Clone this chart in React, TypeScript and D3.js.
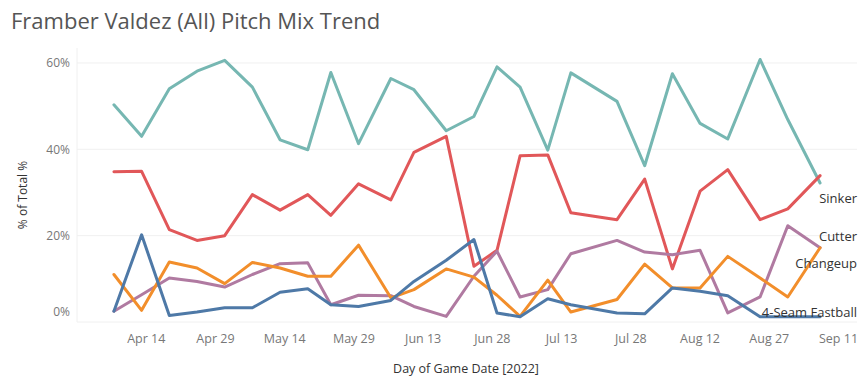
import React from "react";
import * as d3 from "d3";

const W = 866;
const H = 391;

// game dates (2022)
const dates = [
  "2022-04-07", "2022-04-13", "2022-04-19", "2022-04-25", "2022-05-01", "2022-05-07",
  "2022-05-13", "2022-05-19", "2022-05-24", "2022-05-30", "2022-06-06", "2022-06-11",
  "2022-06-18", "2022-06-24", "2022-06-29", "2022-07-04", "2022-07-10", "2022-07-15",
  "2022-07-25", "2022-07-31", "2022-08-06", "2022-08-12", "2022-08-18", "2022-08-25",
  "2022-08-31", "2022-09-07",
];

const curveball = [50.3, 43.0, 54.0, 58.1, 60.6, 54.4, 42.2, 39.9, 57.8, 41.3, 56.4, 53.8, 44.3,
  47.6, 59.1, 54.4, 39.8, 57.7, 51.1, 36.2, 57.5, 46.0, 42.4, 60.8, 46.9, 32.2];
const sinker = [34.8, 34.9, 21.4, 18.9, 20.0, 29.5, 25.9, 29.5, 24.7, 32.0, 28.3, 39.3, 43.0,
  12.9, 16.6, 38.5, 38.7, 25.3, 23.7, 33.1, 12.3, 30.3, 35.3, 23.7, 26.2, 33.9];
const cutter = [2.5, 6.3, 10.2, 9.4, 8.1, 11.0, 13.5, 13.7, 4.0, 6.2, 6.1, 3.6, 1.3, 10.6, 16.4,
  5.8, 7.5, 15.8, 18.9, 16.2, 15.6, 16.6, 2.1, 5.8, 22.3, 17.2];
const changeup = [11.0, 2.7, 13.9, 12.5, 8.9, 13.8, 12.5, 10.6, 10.6, 17.8, 5.6, 7.5, 12.3, 10.4,
  6.2, 1.3, 9.7, 2.3, 5.2, 13.4, 7.9, 7.9, 15.2, 10.2, 5.8, 17.2];
const fastball = [2.5, 20.2, 1.5, 2.3, 3.3, 3.3, 6.9, 7.7, 4.0, 3.6, 5.0, 9.4, 14.3, 19.1, 2.1,
  1.2, 5.4, 4.0, 2.1, 1.9, 7.9, 7.1, 6.1, 1.2, 1.2, 1.2];

const xTicks = ["2022-04-14", "2022-04-29", "2022-05-14", "2022-05-29", "2022-06-13", "2022-06-28",
  "2022-07-13", "2022-07-28", "2022-08-12", "2022-08-27", "2022-09-11"];
const yTicks = [0, 20, 40, 60];

const series = [
  { name: "Curveball", values: curveball, color: "#76b7b2", label: null },
  { name: "Sinker", values: sinker, color: "#e15759", label: 28.6 },
  { name: "Cutter", values: cutter, color: "#b07aa1", label: 19.9 },
  { name: "Changeup", values: changeup, color: "#f28e2b", label: 13.5 },
  { name: "4-Seam Fastball", values: fastball, color: "#4e79a7", label: 2.2 },
];

const parse = d3.timeParse("%Y-%m-%d");
const fmt = d3.timeFormat("%b %-d");
const font = "'Open Sans', sans-serif";

export default function App() {
  const left = 77, right = 857, top = 48, bottom = 322;

  const x = d3.scaleTime()
    .domain([parse("2022-03-30"), parse("2022-09-15")])
    .range([left, right]);
  const y = d3.scaleLinear().domain([0, 60]).range([bottom, bottom - 60 * 4.3175]);

  const line = d3.line<number>()
    .x((_, i) => x(parse(dates[i])))
    .y(d => y(d));

  return (
    <svg width={W} height={H} style={{ position: "absolute", left: 0, top: 0, background: "#fff" }}
      fontFamily={font}>
      <text x={11} y={29} fontSize={22} fill="#555">Framber Valdez (All) Pitch Mix Trend</text>

      {/* grid */}
      {yTicks.map(t => (
        <line key={t} x1={left} x2={right} y1={y(t)} y2={y(t)} stroke="#f0f0f0" strokeWidth={1} />
      ))}
      <line x1={left} x2={left} y1={top} y2={bottom} stroke="#f0f0f0" />

      {/* y ticks */}
      {yTicks.map(t => (
        <text key={t} x={70} y={t === 0 ? y(t) - 10 : y(t)} dy="0.35em" textAnchor="end"
          fontSize={12} fill="#777">{t}%</text>
      ))}
      <text transform={`translate(27,${(top + bottom) / 2 + 10}) rotate(-90)`} textAnchor="middle"
        fontSize={12} fill="#333">% of Total %</text>

      {/* x ticks */}
      {xTicks.map(t => (
        <text key={t} x={x(parse(t))} y={343} textAnchor="middle" fontSize={12.5} fill="#777">
          {fmt(parse(t))}
        </text>
      ))}
      <text x={466} y={373} textAnchor="middle" fontSize={12.5} fill="#333">Day of Game Date [2022]</text>

      {/* lines */}
      {series.map(s => (
        <path key={s.name} d={line(s.values) || ""} fill="none" stroke={s.color} strokeWidth={3}
          strokeLinejoin="round" strokeLinecap="round" />
      ))}

      {series.filter(s => s.label !== null).map(s => (
        <text key={s.name} x={right} y={y(s.label as number)} dy="0.35em" textAnchor="end"
          fontSize={13} fill="#333">{s.name}</text>
      ))}
    </svg>
  );
}
